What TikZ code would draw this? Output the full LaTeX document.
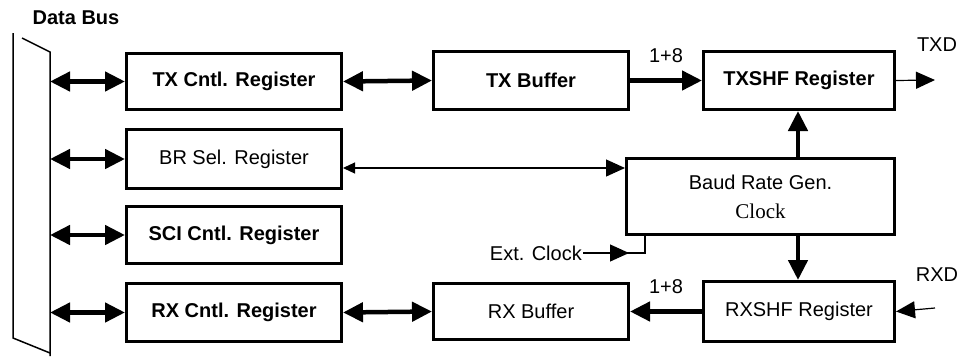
\documentclass[tikz,border=0pt]{standalone}
\usepackage{fontspec}
\setmainfont{Liberation Serif}
\setsansfont{Liberation Sans}
\usetikzlibrary{arrows.meta}
\newcommand{\boxfont}{\sffamily\fontsize{20}{24}\selectfont}

\begin{document}
\begin{tikzpicture}[
  x=1pt,y=-1pt,
  reg/.style={draw,line width=3pt,inner sep=0pt,anchor=north west,font=\boxfont},
  hreg/.style={reg,font=\boxfont\bfseries},
  lbl/.style={inner sep=1pt,font=\boxfont},
  tipf/.tip={Triangle[length=20pt 0 0,width=19pt 0 0]},
  tips/.tip={Triangle[length=19pt 0 0,width=17pt 0 0]},
  fat/.style={line width=4.5pt,-tipf},
  fatboth/.style={line width=4.5pt,tipf-tipf},
  slim/.style={line width=1.2pt,-tips},
  slimboth/.style={line width=1.2pt,{Triangle[length=12pt 0 0,width=11pt 0 0]}-tips}
]
\useasboundingbox (0,0) rectangle (971,356);

% data bus
\draw[line width=1.5pt] (22,38) -- (50,52) -- (50,356);
\draw[line width=1.5pt] (13,33) -- (13,338) -- (50,353);
\node[lbl,font=\boxfont\bfseries] (dbus) at (76,18) {Data Bus};
\coordinate (bus) at (50,0);

% registers
\node[hreg,minimum width=215pt,minimum height=56pt] (txc) at (125,52) {TX Cntl. Register};
\node[reg,minimum width=215pt,minimum height=59pt] (brs) at (125,128) {BR Sel. Register};
\node[hreg,minimum width=215pt,minimum height=57pt] (sci) at (125,205) {SCI Cntl. Register};
\node[hreg,minimum width=215pt,minimum height=58pt] (rxc) at (125,282) {RX Cntl. Register};
\node[hreg,minimum width=195pt,minimum height=58pt] (txb) at (432,50) {TX Buffer};
\node[hreg,minimum width=191pt,minimum height=58pt] (txs) at (702,50) {TXSHF Register};
\node[reg,minimum width=268pt,minimum height=76pt,align=center] (brg) at (625,157) {Baud Rate Gen.\\[5pt]{\rmfamily\fontsize{21}{24}\selectfont Clock}};
\node[reg,minimum width=191pt,minimum height=60pt] (rxs) at (702,280) {RXSHF Register};
\node[reg,minimum width=195pt,minimum height=56pt] (rxb) at (432,282) {RX Buffer};

% outside signals
\node[lbl] (txdl) at (937,45) {TXD};
\node[lbl] (rxdl) at (937,275) {RXD};
\node[lbl,anchor=east] (ext) at (583,253) {Ext. Clock};
\coordinate (txd) at (935,80);
\coordinate (rxd) at (935,308);
\coordinate (ck) at (645,253);
\coordinate (vl) at (798,0);

\foreach \n in {txc,brs,sci,rxc}
  \draw[fatboth] (bus |- \n.west) -- (\n.west);
\draw[fatboth] (txc.east) -- (txb.west);
\draw[fat] (txb.east) -- node[lbl,above=15pt] (n18a) {1+8} (txs.west);
\draw[fatboth] (rxb.west) -- (rxc.east);
\draw[fat] (rxs.west) -- node[lbl,above=15pt] (n18b) {1+8} (rxb.east);
\draw[slim] (txs.east) -- (txd);
\draw[slim] (rxd) -- (rxs.east);
\draw[slimboth] ([yshift=-9pt]brs.east) coordinate (bl) -- (bl -| brg.west);
\draw[fat] (vl |- brg.north) -- (vl |- txs.south);
\draw[fat] (vl |- brg.south) -- (vl |- rxs.north);
\draw[line width=1.2pt] (ext.east) -- (ck) -- (ck |- brg.south);
\draw[slim] (ext.east) -- ([xshift=-16pt]ck);
\end{tikzpicture}
\end{document}
